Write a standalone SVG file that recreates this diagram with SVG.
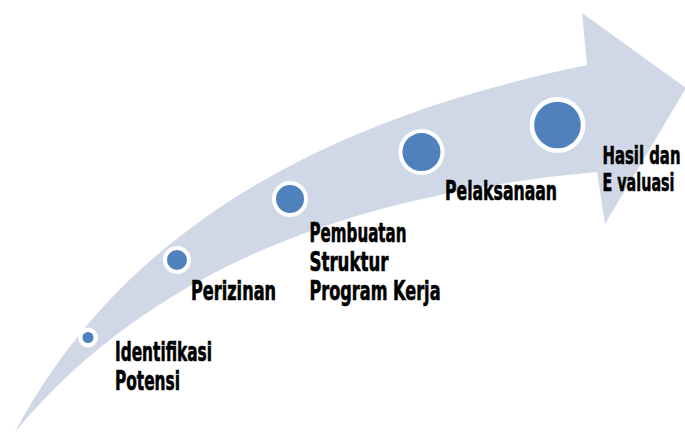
<svg xmlns="http://www.w3.org/2000/svg" width="685" height="433" viewBox="0 0 685 433">
  <style>
    .arrow { fill: #D0D8E8; stroke: none; }
    .dot { fill: #4F81BD; stroke: #FFFFFF; }
    .lbl { font-family: "Liberation Sans Narrow", "DejaVu Sans Condensed", "Liberation Sans", sans-serif; font-weight: bold; font-size: 26px; fill: #000000; stroke: #000000; stroke-width: 0.6; }
  </style>
  <rect width="685" height="433" fill="#FFFFFF"/>
  <g id="arrow">
    <path class="arrow" d="M 15,432 C 125,225 330,118 587,65 L 582,13 L 686,88 L 605,224 L 597,172 C 400,190 170,245 15,432 Z"/>
  </g>
  <g id="connectors"></g>
  <g id="step1">
    <circle class="dot" cx="88" cy="337.5" r="7.75" stroke-width="4.5"/>
    <text class="lbl" x="115" y="361" textLength="97" lengthAdjust="spacingAndGlyphs">Identifikasi</text>
    <text class="lbl" x="115" y="389.5" textLength="65" lengthAdjust="spacingAndGlyphs">Potensi</text>
  </g>
  <g id="step2">
    <circle class="dot" cx="177" cy="260" r="12" stroke-width="4"/>
    <text class="lbl" x="191" y="299.5" textLength="85" lengthAdjust="spacingAndGlyphs">Perizinan</text>
  </g>
  <g id="step3">
    <circle class="dot" cx="290" cy="199" r="16" stroke-width="4"/>
    <text class="lbl" x="309.5" y="242" textLength="97" lengthAdjust="spacingAndGlyphs">Pembuatan</text>
    <text class="lbl" x="309.5" y="271" textLength="79" lengthAdjust="spacingAndGlyphs">Struktur</text>
    <text class="lbl" x="309.5" y="300" textLength="131" lengthAdjust="spacingAndGlyphs">Program Kerja</text>
  </g>
  <g id="step4">
    <circle class="dot" cx="421.5" cy="152" r="21" stroke-width="4"/>
    <text class="lbl" x="445" y="200" textLength="112" lengthAdjust="spacingAndGlyphs">Pelaksanaan</text>
  </g>
  <g id="step5">
    <circle class="dot" cx="557.5" cy="125" r="25.6" stroke-width="4.6"/>
    <text class="lbl" x="602.5" y="164" textLength="78" lengthAdjust="spacingAndGlyphs" style="font-size:25px">Hasil dan</text>
    <text class="lbl" x="602.5" y="191" textLength="72" lengthAdjust="spacingAndGlyphs" style="font-size:25px">E valuasi</text>
  </g>
</svg>
